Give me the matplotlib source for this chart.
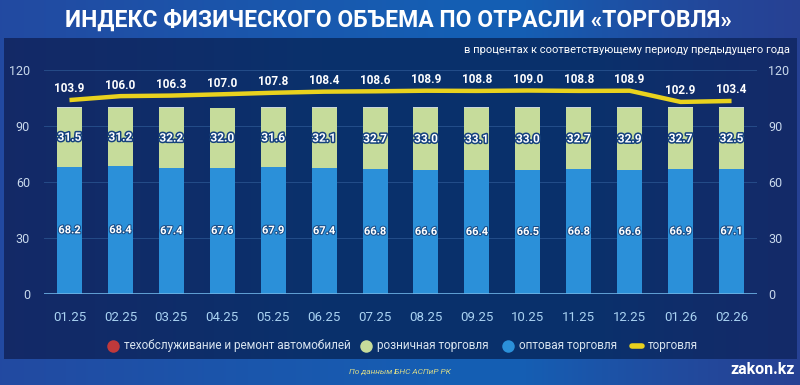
import numpy as np
import matplotlib
matplotlib.use("Agg")
import matplotlib.pyplot as plt
import matplotlib.patheffects as pe

months = ["01.25", "02.25", "03.25", "04.25", "05.25", "06.25", "07.25",
          "08.25", "09.25", "10.25", "11.25", "12.25", "01.26", "02.26"]
wholesale = [68.2, 68.4, 67.4, 67.6, 67.9, 67.4, 66.8, 66.6, 66.4, 66.5, 66.8, 66.6, 66.9, 67.1]
retail = [31.5, 31.2, 32.2, 32.0, 31.6, 32.1, 32.7, 33.0, 33.1, 33.0, 32.7, 32.9, 32.7, 32.5]
service = [0.3, 0.4, 0.4, 0.0, 0.5, 0.5, 0.5, 0.4, 0.5, 0.5, 0.5, 0.5, 0.4, 0.4]
trade = [103.9, 106.0, 106.3, 107.0, 107.8, 108.4, 108.6, 108.9, 108.8, 109.0, 108.8, 108.9, 102.9, 103.4]
yticks = [0, 30, 60, 90, 120]

plt.rcParams['font.family'] = ['Roboto', 'DejaVu Sans']

W, H = 800, 385
fig = plt.figure(figsize=(W / 100, H / 100), dpi=100)


def hgrad(n_x, n_y, left, mid, right, mid_pos, mid_w, lslope, rstart, rslope):
    X, Y = np.meshgrid(np.linspace(0, 1, n_x), np.linspace(0, 1, n_y))
    wm = np.exp(-((X - mid_pos) / mid_w) ** 2)
    wl = np.clip(1 - X * lslope, 0, 1)
    wr = np.clip((X - rstart) * rslope, 0, 1)
    s = wm + wl + wr + 1e-6
    l = np.array(left) / 255
    m = np.array(mid) / 255
    r = np.array(right) / 255
    return (wm[..., None] * m + wl[..., None] * l + wr[..., None] * r) / s[..., None]


# outer background gradient
bg = fig.add_axes([0, 0, 1, 1])
img = hgrad(400, 50, (0x26, 0x44, 0x9c), (0x15, 0x5f, 0xb4), (0x2a, 0x3c, 0x8e), 0.45, 0.4, 1.8, 0.65, 2.5)
bg.imshow(img, extent=[0, 1, 0, 1], aspect='auto', origin='lower')
bg.set_xlim(0, 1); bg.set_ylim(0, 1)
bg.axis('off')

# inner dark panel
px0, px1 = 4 / W, 797 / W
py0, py1 = 1 - 359 / H, 1 - 38 / H
pn = fig.add_axes([px0, py0, px1 - px0, py1 - py0])
pimg = hgrad(400, 50, (0x15, 0x28, 0x66), (0x0a, 0x31, 0x6c), (0x16, 0x29, 0x68), 0.5, 0.38, 2.5, 0.74, 3.0)
pn.imshow(pimg, extent=[0, 1, 0, 1], aspect='auto', origin='lower')
pn.axis('off')

# main axes
ax = fig.add_axes([44 / W, 1 - 294 / H, (757 - 44) / W, (294 - 70) / H])
ax.patch.set_alpha(0)
x = np.arange(len(months))
bw = 0.49
blue = '#2b90d9'
green = '#c6dc9b'
capc = '#c9d5dc'
yellow = '#e9d21e'

ax.bar(x, wholesale, bw, color=blue, zorder=3)
ax.bar(x, retail, bw, bottom=wholesale, color=green, zorder=3)
bot2 = np.array(wholesale) + np.array(retail)
ax.bar(x, service, bw, bottom=bot2, color=capc, zorder=3)
ax.plot(x, trade, color=yellow, lw=3.2, zorder=4, solid_capstyle='butt')

for i in range(len(x)):
    ax.text(x[i], wholesale[i] / 2, f"{wholesale[i]:.1f}", ha='center', va='center',
            color='white', fontsize=8, fontweight='bold', zorder=5,
            path_effects=[pe.withStroke(linewidth=1.5, foreground='#1a4f8a')])
    ax.text(x[i], wholesale[i] + retail[i] / 2, f"{retail[i]:.1f}", ha='center', va='center',
            color='white', fontsize=8.5, fontweight='bold', zorder=5,
            path_effects=[pe.withStroke(linewidth=2.2, foreground='#16427e')])
    ax.annotate(f"{trade[i]:.1f}", (x[i], trade[i]), xytext=(0, 8), textcoords='offset points',
                ha='center', va='center', color='white', fontsize=8.5, fontweight='bold', zorder=5)

ax.set_xlim(-0.5, len(x) - 0.5)
ax.set_ylim(0, 120)
ax.set_yticks(yticks)
ax.set_xticks(x)
ax.set_xticklabels(months)
for sp in ax.spines.values():
    sp.set_visible(False)
ax.axhline(0, color='#6fb4e6', lw=1.2, zorder=4)
for yv in yticks[1:]:
    ax.axhline(yv, color='#2e5a96', lw=0.7, alpha=0.7, zorder=1)
ax.tick_params(axis='both', length=0, colors='#c9d9ec', labelsize=9)
ax.tick_params(axis='x', pad=12, colors='#a9d2f2', labelsize=9.5)
ax.tick_params(axis='y', pad=10)

ax2 = ax.twinx()
ax2.set_ylim(0, 120)
ax2.set_yticks(yticks)
for sp in ax2.spines.values():
    sp.set_visible(False)
ax2.tick_params(axis='y', length=0, colors='#c9d9ec', labelsize=9, pad=8)

# title and subtitle
fig.text(0.4975, 1 - 20 / H, "ИНДЕКС ФИЗИЧЕСКОГО ОБЪЕМА ПО ОТРАСЛИ «ТОРГОВЛЯ»", ha='center', va='center',
         color='white', fontsize=16.5, fontweight='bold')
fig.text(790 / W, 1 - 50 / H, "в процентах к соответствующему периоду предыдущего года",
         ha='right', va='center', color='white', fontsize=8,
         family=['Liberation Sans Narrow', 'Roboto', 'DejaVu Sans'])

# legend
items = [(113, 'o', '#c0393b', "техобслуживание и ремонт автомобилей"),
         (366, 'o', '#c6dc9b', "розничная торговля"),
         (508, 'o', '#2b90d9', "оптовая торговля"),
         (637, '_', yellow, "торговля")]
lax = fig.add_axes([0, 0, 1, 1])
lax.set_xlim(0, W); lax.set_ylim(H, 0)
lax.axis('off')
lax.patch.set_alpha(0)
for xp, m, c, lab in items:
    if m == 'o':
        lax.plot([xp], [346], marker='o', ms=9, color=c, mec='none')
    else:
        lax.plot([xp - 5, xp + 5], [346, 346], color=c, lw=4, solid_capstyle='round')
    lax.text(xp + 11, 346, lab, ha='left', va='center', color='#d8e4f0', fontsize=8.5,
             family=['Liberation Sans Narrow', 'Roboto', 'DejaVu Sans'])

lax.text(400, 372, "По данным БНС АСПиР РК", ha='center', va='center', color='#d6d98a',
         fontsize=6, style='italic', family=['Liberation Sans Narrow', 'Roboto', 'DejaVu Sans'])
lax.text(795, 370, "zakon.kz", ha='right', va='center', color='white', fontsize=11.5, fontweight='bold')

fig.savefig("out.png", dpi=100)
